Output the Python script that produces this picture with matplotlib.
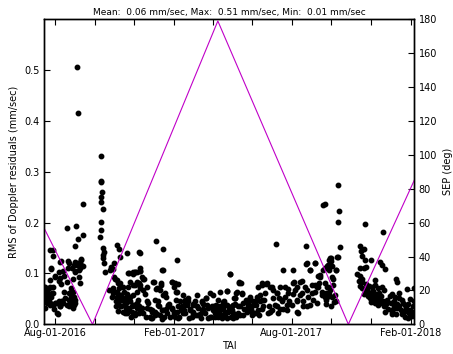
import matplotlib
matplotlib.use("Agg")
import matplotlib.pyplot as plt
import pandas as pd

# ---- data ----
title_text = "Mean:  0.06 mm/sec, Max:  0.51 mm/sec, Min:  0.01 mm/sec"

# scatter: day offsets from 2016-08-01 and RMS of Doppler residuals (mm/sec)
rms_days = [
    -16.9, -16.9, -15.9, -14.9, -13.8, -12.8, -11.8, -10.8, -7.7, -7.7, -7.7, -6.7, -5.6, -3.6,
    -3.6, -3.6, -2.5, -2.5, 0.5, 0.5, 3.6, 5.7, 6.7, 7.7, 7.7, 8.8, 9.8, 10.8, 12.9, 12.9,
    13.9, 19.0, 20.1, 21.1, 21.1, 22.1, 23.2, 24.2, 25.2, 26.2, 26.2, 27.3, 28.3, 28.3, 29.3,
    30.4, 30.4, 31.4, 31.4, 32.4, 33.4, 34.4, 35.5, 35.5, 36.5, 37.6, 38.6, 39.6, 40.6, 42.7,
    42.7, 43.7,
    70.0, 71.0, 71.0, 71.0, 71.5, 71.5, 71.5, 71.5, 72.5, 73.5, 74.0, 74.6, 74.6, 75.6, 75.6, 77.6,
    82.8, 84.8, 86.9, 87.9, 89.0, 90.0, 91.0, 91.0, 94.1, 94.1, 95.1, 96.1, 96.1, 97.2, 97.2,
    98.2, 99.2, 100.3, 100.3, 100.3, 100.3, 102.3, 103.3, 104.4, 105.4, 106.4, 106.4, 109.5,
    109.5, 110.6, 111.6, 111.6, 112.6, 113.6, 114.7, 115.7, 115.7, 117.7, 118.8, 120.8, 120.8,
    121.8, 123.9, 123.9, 126.0, 126.0, 127.0, 129.0, 129.0, 131.1, 131.1, 131.1,
    123.4, 125.5, 127.5, 128.5, 129.6, 129.6, 130.6, 133.7, 134.7, 137.8, 138.8, 140.9, 141.9,
    143.9, 146.0, 148.1, 149.1, 152.2, 154.2, 154.2, 155.3, 155.3, 158.4, 160.4, 162.5, 163.5,
    164.5, 166.6, 166.6, 168.6, 169.7, 170.7, 174.8, 177.9, 179.9, 181.0, 184.1, 185.0, 186.1,
    187.1, 188.7, 189.2, 189.2, 190.2, 194.3, 197.9, 200.5, 200.5, 203.1, 205.6, 208.2, 210.8,
    213.4, 213.4, 218.5, 221.1, 225.2, 226.2, 226.2, 228.8, 231.3, 232.4, 235.5, 239.6, 240.6,
    244.7, 246.8, 251.9, 251.9, 254.5, 259.6, 261.2, 264.8, 265.3, 267.3, 269.9, 273.5, 275.5,
    269.9, 274.0, 275.0, 277.6, 279.2, 280.2, 284.3, 285.3, 288.4, 290.5, 294.6, 295.6, 298.2,
    300.7, 303.3, 305.9, 310.0, 311.0, 313.1, 315.1, 316.2, 319.2, 319.2, 322.3, 325.4, 329.0,
    330.6, 334.2, 334.2, 336.7, 340.3, 341.9, 341.9, 344.4, 347.0, 349.6, 352.1, 352.1, 354.7,
    357.3, 359.9, 361.4, 365.0, 366.5, 367.6, 369.1, 372.7, 372.7, 375.3, 377.8, 380.4, 383.0,
    387.1, 388.1, 388.1, 388.1, 393.3, 395.8, 398.4, 401.0, 401.5, 404.6, 406.1, 407.7, 408.7,
    411.2, 413.8, 413.8, 416.9, 419.0, 420.0, 423.1,
    416.3, 416.3, 417.3, 418.4, 419.4, 420.4, 421.4, 422.5, 422.5, 425.6, 425.6, 425.6, 426.6,
    427.6, 427.6, 428.6, 429.7, 432.7, 435.8, 436.9, 436.9, 438.4, 439.4,
    469.8, 470.8, 470.8, 471.8, 472.8, 473.9, 473.9, 475.9, 477.0, 478.0, 478.0, 478.0, 480.0,
    482.1, 483.1, 485.2, 487.2, 487.2, 488.3, 489.3, 490.3, 493.4, 493.4, 493.4, 493.4, 497.5,
    497.5, 498.5, 501.1, 501.1, 503.7, 504.7, 505.7, 506.8, 507.8, 508.8, 508.8, 519.1, 519.1,
    522.2, 524.2, 525.3, 525.3, 526.8, 527.3, 530.4, 533.5, 534.5, 535.5, 539.7, 539.7, 542.7,
    542.7, 545.8, 549.9, 552.0, 553.0,
    # second reading: late 2016 to mid 2017 band
    92.5, 97.7, 90.0, 95.1, 101.3, 105.4, 94.1, 109.5, 100.3, 113.1, 108.0, 118.2, 115.7, 120.8,
    126.0, 123.4, 131.1, 136.2, 141.4, 146.5, 149.1, 154.2, 159.4, 161.9, 167.0, 172.2, 174.8,
    179.9, 185.0, 188.6, 192.8, 196.9, 200.5, 204.0, 208.2, 213.3, 217.4, 221.0, 226.2, 229.8,
    233.9, 239.0, 243.1, 248.3, 253.4, 258.6, 260.6,
    113.1, 120.8, 126.0, 131.1, 136.2, 141.4, 151.6, 156.8, 163.0, 167.0, 179.9, 183.5, 188.6,
    197.9, 205.6, 218.5, 232.9, 244.2, 254.4, 123.4, 131.1, 120.8, 113.1, 136.2, 164.5,
    150.0, 157.0, 165.0, 171.0, 176.0, 183.0, 191.0, 195.0, 199.0, 207.0, 212.0, 216.0, 224.0,
    228.0, 236.0, 242.0, 247.0, 250.0, 257.0, 262.0, 268.0, 272.0, 278.0, 282.0, 292.0, 297.0,
    302.0, 308.0,
    # second reading: mid 2017 to Oct 2017 band
    435.3, 424.0, 418.9, 387.0, 400.9, 393.2, 408.6, 433.3, 429.2, 264.7, 284.2, 286.3, 279.1,
    287.8, 277.5, 259.5, 254.4, 264.7, 262.1, 272.4, 282.7, 290.4, 298.1, 305.8, 311.0, 316.1,
    318.7, 326.4, 331.5, 336.6, 341.8, 345.9, 349.5, 354.6, 359.8, 366.4, 370.0, 377.8, 380.3,
    385.5, 390.6, 395.8, 400.9, 406.0, 411.2, 416.3, 417.9, 424.0, 431.7, 433.3, 285.2, 295.5,
    303.2, 313.5, 321.2, 331.5, 339.2, 346.9, 357.2, 372.6, 382.9, 393.2, 403.5, 254.4, 275.0,
    318.7, 323.8, 372.6,
    # second reading: Nov 2017 to Feb 2018 band
    466.0, 468.0, 470.0, 474.0, 476.0, 479.0, 481.0, 484.0, 486.0, 490.0, 492.0, 495.0, 496.0,
    499.0, 500.0, 502.0, 505.0, 510.0, 512.0, 514.0, 516.0, 518.0, 521.0, 523.0, 528.0, 531.0,
    536.0, 538.0, 541.0, 544.0, 547.0, 551.0, 553.0, 554.0, 548.0, 530.0, 520.0, 544.0,
    # second reading: Jul-Sep 2016 cluster
    -17.4, -14.9, -12.3, -9.7, -7.2, -4.6, -2.0, 1.6, 4.7, 8.3, 10.8, 13.4, 16.0, 18.6, 21.1,
    23.7, 26.3, 28.8, 31.4, 25.2, -14.9, -9.7, -7.2, -0.5, 5.7, 18.6, 27.3, 31.4, 39.1, 35.5,
    40.6, 28.8, 20.1, 8.3, -5.6,
]
rms_values = [
    0.062, 0.074, 0.054, 0.032, 0.068, 0.048, 0.041, 0.061, 0.146, 0.074, 0.041, 0.110, 0.054, 0.135,
    0.074, 0.038, 0.146, 0.062, 0.093, 0.041, 0.022, 0.103, 0.045, 0.091, 0.036, 0.125, 0.079, 0.045, 0.104, 0.041,
    0.094, 0.189, 0.110, 0.121, 0.048, 0.035, 0.061, 0.064, 0.054, 0.110, 0.041, 0.032, 0.054, 0.064, 0.038,
    0.123, 0.047, 0.154, 0.103, 0.194, 0.116, 0.506, 0.167, 0.416, 0.106, 0.093, 0.082, 0.117, 0.128, 0.175,
    0.115, 0.237,
    0.171, 0.330, 0.281, 0.251, 0.279, 0.241, 0.202, 0.186, 0.260, 0.137, 0.226, 0.150, 0.130, 0.143, 0.121, 0.103,
    0.068, 0.106, 0.113, 0.054, 0.108, 0.061, 0.121, 0.093, 0.064, 0.035, 0.054, 0.156, 0.087, 0.041, 0.027,
    0.071, 0.148, 0.132, 0.081, 0.058, 0.051, 0.035, 0.048, 0.025, 0.074, 0.038, 0.064, 0.032,
    0.051, 0.060, 0.140, 0.022, 0.045, 0.100, 0.028, 0.054, 0.084, 0.015, 0.035, 0.058, 0.102,
    0.038, 0.022, 0.077, 0.041, 0.064, 0.102, 0.035, 0.081, 0.141, 0.071, 0.110,
    0.102, 0.036, 0.079, 0.048, 0.142, 0.022, 0.104, 0.033, 0.092, 0.090, 0.059, 0.015, 0.045,
    0.041, 0.031, 0.012, 0.025, 0.083, 0.018, 0.048, 0.164, 0.069, 0.045, 0.035, 0.068, 0.082,
    0.028, 0.148, 0.106, 0.015, 0.061, 0.054, 0.036, 0.014, 0.031, 0.084, 0.025, 0.082, 0.048,
    0.064, 0.127, 0.079, 0.012, 0.035, 0.028, 0.022, 0.048, 0.041, 0.038, 0.045, 0.031, 0.015,
    0.025, 0.040, 0.035, 0.018, 0.012, 0.043, 0.028, 0.040, 0.022, 0.051, 0.033, 0.062, 0.015,
    0.035, 0.022, 0.047, 0.014, 0.028, 0.018, 0.041, 0.066, 0.012, 0.025, 0.099, 0.035, 0.051,
    0.099, 0.038, 0.022, 0.051, 0.014, 0.064, 0.084, 0.036, 0.060, 0.018, 0.048, 0.028, 0.035,
    0.054, 0.025, 0.045, 0.038, 0.048, 0.074, 0.018, 0.058, 0.081, 0.031, 0.048, 0.079, 0.022,
    0.035, 0.073, 0.028, 0.051, 0.158, 0.061, 0.036, 0.023, 0.073, 0.048, 0.106, 0.031, 0.054,
    0.028, 0.069, 0.045, 0.038, 0.107, 0.060, 0.084, 0.073, 0.048, 0.022, 0.058, 0.085, 0.045,
    0.153, 0.120, 0.068, 0.036, 0.107, 0.061, 0.048, 0.077, 0.120, 0.073, 0.095, 0.081, 0.092,
    0.064, 0.235, 0.106, 0.054, 0.073, 0.113, 0.127,
    0.237, 0.110, 0.061, 0.040, 0.054, 0.074, 0.117, 0.107, 0.060, 0.130, 0.124, 0.036, 0.054,
    0.115, 0.093, 0.077, 0.043, 0.107, 0.132, 0.274, 0.201, 0.222, 0.152,
    0.111, 0.154, 0.094, 0.145, 0.084, 0.134, 0.071, 0.111, 0.148, 0.127, 0.067, 0.197, 0.112,
    0.056, 0.064, 0.051, 0.127, 0.043, 0.073, 0.054, 0.060, 0.087, 0.077, 0.047, 0.041, 0.071,
    0.051, 0.038, 0.123, 0.041, 0.074, 0.117, 0.182, 0.035, 0.067, 0.108, 0.025, 0.060, 0.025,
    0.038, 0.054, 0.090, 0.020, 0.033, 0.084, 0.051, 0.028, 0.048, 0.020, 0.038, 0.015, 0.069,
    0.028, 0.022, 0.016, 0.035, 0.071,
    # second reading: late 2016 to mid 2017 band
    0.090, 0.081, 0.071, 0.064, 0.058, 0.051, 0.045, 0.041, 0.035, 0.032, 0.022, 0.025, 0.045, 0.038,
    0.032, 0.018, 0.025, 0.022, 0.032, 0.015, 0.028, 0.025, 0.038, 0.018, 0.028, 0.022, 0.038,
    0.032, 0.015, 0.025, 0.045, 0.035, 0.022, 0.041, 0.028, 0.038, 0.018, 0.032, 0.045, 0.025,
    0.038, 0.015, 0.028, 0.038, 0.022, 0.032, 0.045,
    0.074, 0.077, 0.084, 0.077, 0.068, 0.074, 0.084, 0.071, 0.077, 0.058, 0.084, 0.074, 0.064,
    0.058, 0.051, 0.058, 0.052, 0.058, 0.064, 0.102, 0.104, 0.098, 0.100, 0.090, 0.107,
    0.012, 0.020, 0.010, 0.030, 0.040, 0.020, 0.015, 0.035, 0.028, 0.012, 0.020, 0.045, 0.020,
    0.030, 0.012, 0.035, 0.015, 0.028, 0.012, 0.020, 0.030, 0.015, 0.040, 0.022, 0.030, 0.042,
    0.030, 0.022,
    # second reading: mid 2017 to Oct 2017 band
    0.133, 0.130, 0.115, 0.119, 0.120, 0.107, 0.097, 0.106, 0.089, 0.066, 0.082, 0.081, 0.062,
    0.061, 0.051, 0.043, 0.035, 0.038, 0.025, 0.028, 0.035, 0.041, 0.048, 0.038, 0.054, 0.045,
    0.077, 0.081, 0.074, 0.068, 0.061, 0.051, 0.045, 0.074, 0.061, 0.081, 0.068, 0.084, 0.061,
    0.074, 0.054, 0.077, 0.064, 0.074, 0.058, 0.081, 0.048, 0.068, 0.058, 0.045, 0.018, 0.025,
    0.018, 0.028, 0.035, 0.025, 0.038, 0.031, 0.038, 0.025, 0.035, 0.038, 0.041, 0.018, 0.012,
    0.048, 0.061, 0.045,
    # second reading: Nov 2017 to Feb 2018 band
    0.098, 0.085, 0.076, 0.090, 0.060, 0.080, 0.070, 0.075, 0.062, 0.066, 0.055, 0.060, 0.045,
    0.062, 0.050, 0.056, 0.045, 0.040, 0.048, 0.030, 0.055, 0.042, 0.030, 0.045, 0.040, 0.035,
    0.042, 0.025, 0.032, 0.040, 0.028, 0.020, 0.045, 0.025, 0.050, 0.062, 0.020, 0.012,
    # second reading: Jul-Sep 2016 cluster
    0.068, 0.058, 0.051, 0.045, 0.038, 0.061, 0.031, 0.041, 0.021, 0.035, 0.045, 0.064, 0.051, 0.038, 0.061,
    0.045, 0.035, 0.054, 0.041, 0.071, 0.074, 0.071, 0.087, 0.094, 0.085, 0.084, 0.090, 0.104, 0.110, 0.120,
    0.127, 0.117, 0.125, 0.123, 0.109,
]

# SEP angle (deg) at its turning points
sep_dates = ["2016-07-14 12:00", "2016-09-27 18:00", "2017-04-09 00:00",
             "2017-10-27 06:00", "2018-02-06 06:00"]
sep_values = [57.2, 0.0, 179.0, 0.0, 85.3]

rms_ref_date = "2016-08-01"
tick_dates = ["2016-08-01", "2016-10-01", "2016-12-01", "2017-02-01", "2017-04-01",
              "2017-06-01", "2017-08-01", "2017-10-01", "2017-12-01", "2018-02-01"]
tick_labels = ["Aug-01-2016", "", "", "Feb-01-2017", "", "",
               "Aug-01-2017", "", "", "Feb-01-2018"]

# ---- figure ----
plt.rcParams['font.family'] = ['DejaVu Sans']
plt.rcParams['font.size'] = 7

fig = plt.figure(figsize=(4.53, 3.54), dpi=100)
ax = fig.add_axes([0.0965, 0.0839, 0.8185, 0.8616])

x_rms = pd.Timestamp(rms_ref_date) + pd.to_timedelta(rms_days, unit="D")
ax.plot(x_rms, rms_values, linestyle="none", marker="o", markersize=3.2,
        color="black", markeredgecolor="black")

ax.set_ylim(0, 0.5995)
ax.set_yticks([0.0, 0.1, 0.2, 0.3, 0.4, 0.5])
ax.set_ylabel("RMS of Doppler residuals (mm/sec)", fontsize=7, labelpad=4)
ax.set_xlabel("TAI", fontsize=7, labelpad=2)
ax.set_title(title_text, fontsize=6.5, pad=3)

ax2 = ax.twinx()
x_sep = pd.to_datetime(sep_dates)
ax2.plot(x_sep, sep_values, color="#c000c8", linewidth=0.8)
ax2.set_ylim(0, 180)
ax2.set_yticks(range(0, 181, 20))
ax2.set_ylabel("SEP (deg)", fontsize=7, labelpad=4)

ax.set_xlim(x_sep[0], x_sep[-1])
ax.set_xticks(pd.to_datetime(tick_dates))
ax.set_xticklabels(tick_labels)

for a in (ax, ax2):
    for s in a.spines.values():
        s.set_linewidth(1.0)
        s.set_color("black")
ax.tick_params(axis="x", direction="in", length=4, width=0.8, top=True, bottom=True, pad=3)
ax.tick_params(axis="y", direction="in", length=4, width=0.8, left=True, right=False, pad=3)
ax2.tick_params(axis="y", direction="in", length=4, width=0.8, pad=3)

fig.savefig("out.png", dpi=100)
